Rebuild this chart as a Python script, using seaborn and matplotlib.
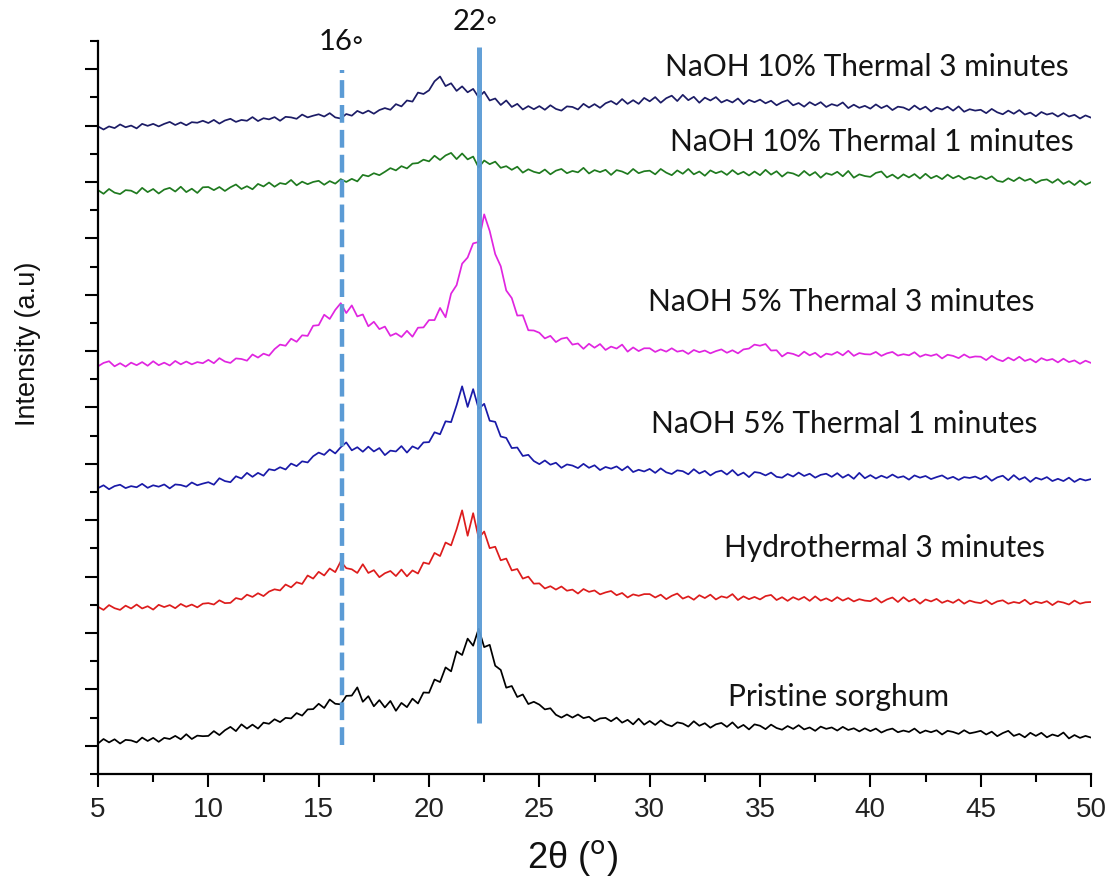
import numpy as np
import pandas as pd
import seaborn as sns
import matplotlib
matplotlib.use("Agg")
import matplotlib.pyplot as plt
from matplotlib.ticker import MultipleLocator

# scan: 2theta from 5 to 50 deg, step 0.25 (stacked counts)
START, STEP = 5.0, 0.25

naoh10_3min = [
    2297, 2286, 2297, 2291, 2304, 2294, 2300, 2290, 2306, 2299, 2306, 2297, 2306, 2313, 2302, 2311, 2301, 2312, 2310, 2317,
    2309, 2320, 2307, 2318, 2324, 2313, 2320, 2317, 2330, 2316, 2326, 2322, 2330, 2317, 2331, 2329, 2324, 2339, 2329, 2335,
    2340, 2332, 2344, 2329, 2325, 2341, 2335, 2352, 2343, 2353, 2342, 2355, 2362, 2356, 2376, 2368, 2389, 2385, 2417, 2412,
    2425, 2457, 2474, 2440, 2450, 2423, 2439, 2418, 2430, 2400, 2420, 2389, 2396, 2373, 2389, 2366, 2377, 2357, 2369, 2358,
    2369, 2356, 2372, 2359, 2353, 2368, 2366, 2357, 2377, 2364, 2376, 2363, 2379, 2387, 2375, 2394, 2377, 2390, 2377, 2398,
    2386, 2401, 2381, 2397, 2406, 2387, 2409, 2390, 2402, 2381, 2399, 2389, 2401, 2382, 2391, 2382, 2396, 2376, 2391, 2383,
    2392, 2379, 2388, 2372, 2383, 2390, 2372, 2380, 2367, 2383, 2372, 2383, 2366, 2376, 2370, 2382, 2362, 2374, 2363, 2370,
    2360, 2375, 2362, 2371, 2355, 2367, 2364, 2355, 2371, 2357, 2367, 2350, 2363, 2357, 2367, 2353, 2368, 2349, 2358, 2353,
    2356, 2344, 2359, 2347, 2340, 2353, 2342, 2355, 2339, 2346, 2333, 2348, 2339, 2344, 2332, 2344, 2332, 2338, 2325, 2336, 2328,
]
naoh10_1min = [
    2071, 2058, 2075, 2062, 2057, 2071, 2069, 2059, 2079, 2064, 2075, 2059, 2073, 2079, 2066, 2083, 2064, 2076, 2061, 2081,
    2082, 2071, 2082, 2068, 2081, 2091, 2075, 2085, 2074, 2093, 2084, 2098, 2083, 2096, 2092, 2107, 2088, 2101, 2092, 2100,
    2104, 2090, 2103, 2094, 2110, 2100, 2111, 2102, 2125, 2120, 2131, 2124, 2136, 2149, 2141, 2156, 2148, 2165, 2167, 2179,
    2173, 2193, 2178, 2194, 2203, 2181, 2201, 2180, 2190, 2151, 2176, 2163, 2172, 2150, 2156, 2143, 2154, 2133, 2145, 2136,
    2131, 2144, 2127, 2140, 2146, 2131, 2139, 2134, 2150, 2130, 2142, 2135, 2143, 2125, 2142, 2137, 2128, 2146, 2131, 2138,
    2140, 2127, 2146, 2133, 2124, 2141, 2129, 2146, 2127, 2137, 2122, 2141, 2131, 2138, 2125, 2142, 2127, 2136, 2123, 2137,
    2124, 2143, 2126, 2138, 2119, 2134, 2130, 2121, 2139, 2123, 2135, 2115, 2131, 2125, 2136, 2120, 2139, 2115, 2127, 2121,
    2118, 2132, 2137, 2116, 2126, 2112, 2127, 2116, 2128, 2112, 2129, 2113, 2122, 2110, 2126, 2113, 2122, 2109, 2118, 2111,
    2120, 2110, 2120, 2104, 2100, 2113, 2103, 2116, 2104, 2111, 2096, 2106, 2109, 2097, 2110, 2093, 2103, 2089, 2105, 2090, 2099,
]
naoh5_3min = [
    1446, 1458, 1464, 1446, 1457, 1445, 1459, 1450, 1461, 1448, 1464, 1450, 1459, 1449, 1465, 1453, 1463, 1453, 1461, 1457,
    1469, 1457, 1475, 1463, 1458, 1474, 1472, 1466, 1488, 1477, 1491, 1484, 1507, 1523, 1519, 1544, 1533, 1556, 1554, 1590,
    1592, 1629, 1614, 1646, 1670, 1635, 1662, 1623, 1630, 1588, 1604, 1578, 1587, 1554, 1563, 1550, 1572, 1551, 1583, 1584,
    1610, 1610, 1653, 1620, 1704, 1734, 1810, 1832, 1882, 1887, 1985, 1926, 1844, 1801, 1715, 1688, 1626, 1627, 1574, 1573,
    1565, 1545, 1554, 1532, 1544, 1548, 1523, 1527, 1508, 1526, 1512, 1525, 1504, 1516, 1509, 1523, 1498, 1513, 1500, 1510,
    1510, 1497, 1506, 1498, 1510, 1498, 1502, 1490, 1504, 1496, 1502, 1492, 1500, 1506, 1494, 1503, 1492, 1506, 1509, 1523,
    1519, 1525, 1502, 1503, 1481, 1494, 1490, 1482, 1498, 1485, 1494, 1478, 1491, 1487, 1497, 1485, 1501, 1483, 1493, 1489,
    1488, 1497, 1483, 1492, 1497, 1484, 1489, 1485, 1496, 1480, 1488, 1483, 1489, 1474, 1487, 1483, 1475, 1488, 1477, 1481,
    1480, 1468, 1483, 1471, 1464, 1477, 1467, 1480, 1465, 1472, 1460, 1475, 1467, 1472, 1460, 1473, 1461, 1467, 1455, 1466, 1458,
]
naoh5_1min = [
    1014, 1024, 1010, 1021, 1026, 1014, 1021, 1017, 1029, 1015, 1024, 1019, 1027, 1013, 1027, 1025, 1019, 1034, 1024, 1030,
    1035, 1026, 1049, 1039, 1035, 1056, 1048, 1068, 1054, 1068, 1058, 1081, 1077, 1088, 1080, 1101, 1092, 1109, 1105, 1127,
    1140, 1132, 1151, 1137, 1159, 1176, 1148, 1159, 1143, 1161, 1144, 1156, 1131, 1147, 1144, 1163, 1140, 1162, 1153, 1176,
    1177, 1212, 1205, 1251, 1248, 1308, 1375, 1302, 1365, 1295, 1313, 1253, 1249, 1197, 1192, 1156, 1158, 1128, 1132, 1110,
    1099, 1112, 1097, 1104, 1086, 1098, 1094, 1085, 1100, 1086, 1095, 1078, 1089, 1083, 1091, 1077, 1091, 1071, 1079, 1073,
    1082, 1068, 1084, 1070, 1064, 1077, 1074, 1063, 1081, 1066, 1075, 1059, 1071, 1076, 1062, 1078, 1059, 1069, 1053, 1071,
    1068, 1059, 1069, 1054, 1051, 1064, 1055, 1069, 1057, 1065, 1051, 1061, 1065, 1054, 1067, 1051, 1062, 1047, 1068, 1049,
    1060, 1048, 1058, 1050, 1062, 1051, 1056, 1044, 1059, 1051, 1057, 1046, 1053, 1059, 1047, 1054, 1043, 1053, 1050, 1055,
    1046, 1057, 1040, 1052, 1058, 1042, 1060, 1044, 1053, 1036, 1051, 1044, 1053, 1039, 1047, 1039, 1051, 1036, 1047, 1041, 1046,
]
hydro_3min = [
    593, 582, 599, 588, 582, 597, 587, 601, 587, 595, 583, 600, 592, 599, 588, 603, 593, 601, 591, 604,
    606, 601, 616, 606, 607, 624, 619, 636, 628, 641, 631, 647, 655, 651, 672, 662, 680, 674, 704, 693,
    717, 704, 729, 716, 754, 730, 726, 713, 744, 713, 723, 698, 712, 720, 702, 725, 701, 722, 711, 750,
    745, 784, 773, 821, 811, 868, 935, 845, 925, 837, 860, 801, 806, 758, 764, 722, 727, 693, 700, 675,
    676, 658, 666, 654, 665, 650, 654, 640, 656, 646, 651, 637, 644, 649, 634, 642, 626, 637, 632, 638,
    638, 626, 636, 620, 632, 640, 622, 630, 618, 634, 624, 636, 619, 630, 625, 638, 617, 630, 620, 628,
    619, 631, 635, 617, 627, 614, 627, 618, 628, 614, 630, 615, 623, 613, 627, 615, 624, 612, 620, 615,
    613, 624, 608, 619, 626, 610, 627, 612, 621, 604, 619, 612, 621, 607, 615, 607, 619, 604, 615, 609,
    606, 616, 602, 612, 616, 604, 610, 606, 618, 602, 611, 606, 613, 599, 612, 608, 601, 615, 604, 609, 610,
]
pristine = [
    108, 124, 112, 123, 108, 121, 119, 112, 129, 117, 128, 114, 128, 124, 135, 123, 141, 124, 136, 134,
    135, 152, 138, 155, 167, 152, 176, 161, 175, 161, 182, 178, 194, 184, 199, 197, 216, 207, 229, 230,
    249, 234, 264, 249, 247, 277, 278, 307, 256, 276, 240, 262, 236, 259, 224, 252, 237, 267, 250, 289,
    288, 335, 326, 378, 364, 435, 422, 480, 455, 515, 450, 458, 384, 369, 306, 312, 273, 282, 248, 256,
    246, 229, 233, 210, 200, 211, 200, 211, 198, 203, 187, 197, 199, 187, 200, 182, 192, 176, 196, 175,
    188, 174, 190, 176, 169, 183, 179, 168, 187, 171, 180, 164, 176, 181, 167, 183, 163, 174, 158, 176,
    171, 159, 175, 163, 157, 170, 160, 173, 158, 165, 153, 168, 160, 165, 154, 167, 156, 162, 151, 162,
    152, 161, 147, 156, 161, 148, 154, 149, 161, 145, 154, 148, 155, 140, 153, 149, 142, 155, 144, 148,
    153, 140, 150, 134, 145, 153, 135, 142, 130, 146, 135, 146, 130, 140, 134, 147, 126, 138, 128, 135, 129,
]

samples = ["NaOH 10% Thermal 3 minutes", "NaOH 10% Thermal 1 minutes",
           "NaOH 5% Thermal 3 minutes", "NaOH 5% Thermal 1 minutes",
           "Hydrothermal 3 minutes", "Pristine sorghum"]
series = [naoh10_3min, naoh10_1min, naoh5_3min, naoh5_1min, hydro_3min, pristine]
colors = ["#1c1c66", "#1f7a1f", "#e025e0", "#1a1aa8", "#dd1c1c", "#000000"]

# label positions (2theta, counts)
label_pos = [(39.85, 2508), (40.05, 2242), (38.7, 1674), (38.8, 1241), (40.65, 802), (38.55, 273)]

peak_16 = 16.05
peak_22 = 22.25

frames = []
for name, vals in zip(samples, series):
    frames.append(pd.DataFrame({
        "two_theta": START + STEP * np.arange(len(vals)),
        "intensity": vals,
        "sample": name,
    }))
df = pd.concat(frames, ignore_index=True)

sns.set_style("ticks")
plt.rcParams["font.family"] = ["Lato", "DejaVu Sans"]

fig = plt.figure(figsize=(11.1, 8.93), dpi=100)
ax = fig.add_axes([0.0883, 0.1333, 0.8946, 0.8208])

sns.lineplot(data=df, x="two_theta", y="intensity", hue="sample",
             palette=dict(zip(samples, colors)), hue_order=samples,
             estimator=None, sort=False, legend=False, lw=1.25, ax=ax)

# reference lines at 16 and 22 deg
ax.plot([peak_16, peak_16], [103, 2497], color="#5B9BD5", lw=3.2,
        ls=(0, (4, 1.6)), zorder=5, solid_capstyle="butt")
ax.plot([peak_22, peak_22], [181, 2579], color="#5B9BD5", lw=3.6, zorder=5,
        alpha=0.95, solid_capstyle="butt")
ax.text(peak_16, 2596, "16◦", ha="center", va="center", fontsize=21,
        color="#111111", clip_on=False, family=["Lato", "DejaVu Sans"])
ax.text(peak_22 - 0.15, 2667, "22◦", ha="center", va="center", fontsize=21,
        color="#111111", clip_on=False, family=["Lato", "DejaVu Sans"])

for name, (lx, ly) in zip(samples, label_pos):
    ax.text(lx, ly, name, ha="center", va="center", fontsize=21.5, color="#141414")

ax.set_xlim(5, 50)
ax.set_ylim(0, 2600)
ax.set_xticks(range(5, 51, 5))
ax.xaxis.set_minor_locator(MultipleLocator(2.5))
ax.set_yticks(range(100, 2600, 200))
ax.set_yticks(range(0, 2601, 200), minor=True)
ax.tick_params(axis="y", which="both", labelleft=False)
ax.tick_params(which="major", direction="out", length=9.5, width=1.5, color="black")
ax.tick_params(which="minor", direction="out", length=5.5, width=1.5, color="black")
ax.tick_params(axis="x", labelsize=20, pad=7)
for lab in ax.get_xticklabels():
    lab.set_family("Liberation Sans")
    lab.set_color("#222222")

sns.despine(ax=ax)
for side in ["left", "bottom"]:
    ax.spines[side].set_linewidth(1.6)
    ax.spines[side].set_color("black")

ax.set_xlabel("")
ax.set_ylabel("")
fig.text(28 / 1110, 1 - 344 / 893, "Intensity (a.u)", rotation=90, ha="center",
         va="center", fontsize=19.5, family="Liberation Sans", color="#111111")
fig.text(572 / 1110, 1 - 858 / 893, "2θ ($^{\\mathrm{o}}$)", ha="center", va="center",
         fontsize=26, family="Liberation Sans", color="#111111")

fig.savefig("out.png", dpi=100)
